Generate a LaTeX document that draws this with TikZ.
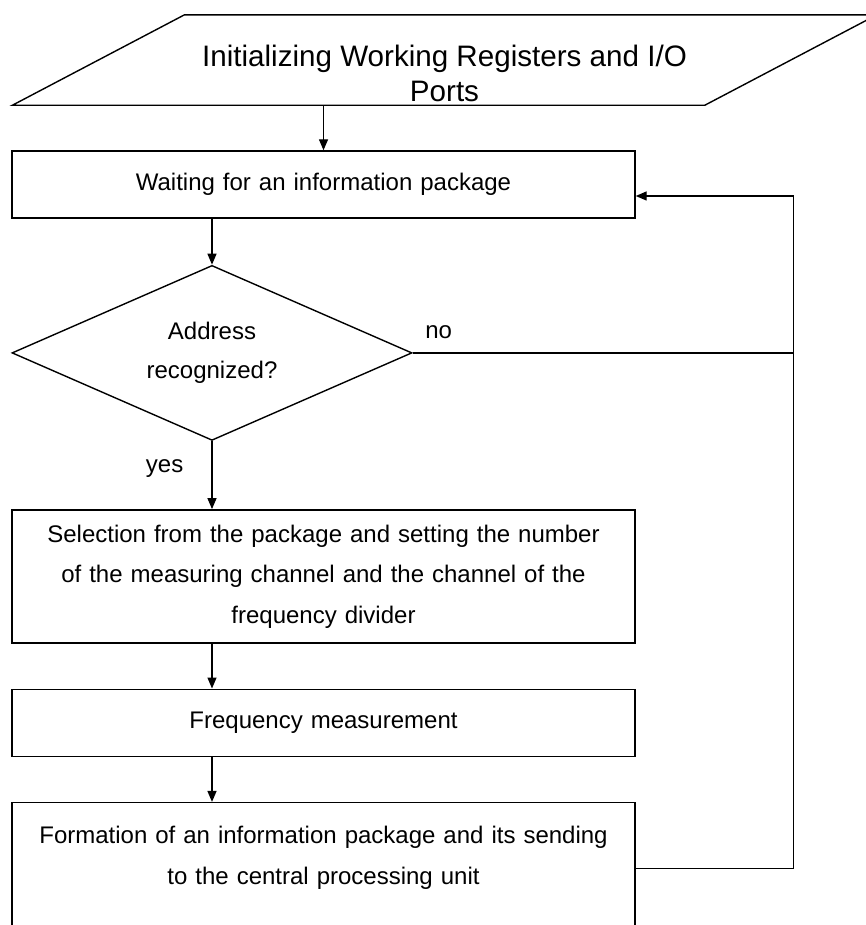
\documentclass[tikz,border=0pt]{standalone}
\usepackage{fontspec}
\setmainfont{Liberation Sans}
\usetikzlibrary{shapes.geometric,arrows.meta,positioning,calc}
\tikzset{
    block/.style={
        rectangle,
        draw,
        align=center,
        inner xsep=0pt,
        text width=311.5pt,
        minimum height=33.5pt,
        font=\fontsize{12}{20.25}\selectfont
    },
    decision/.style={
        diamond,
        draw,
        aspect=2.286,
        inner sep=0pt,
        minimum width=200pt,
        minimum height=87.5pt,
        align=center,
        font=\fontsize{12}{19.5}\selectfont
    },
    io/.style={
        rectangle,
        inner sep=0pt,
        minimum width=259.5pt,
        minimum height=44.5pt
    },
    lbl/.style={inner sep=0pt, font=\fontsize{12}{14}\selectfont}
}
\begin{document}
\begin{tikzpicture}[node distance=22.5pt, line width=0.7pt, >={Triangle[length=5.5pt,width=4.5pt]}]
    \clip (-161.75pt,92.25pt) rectangle (271.25pt,-370.25pt);
    \node (wait) [block] {Waiting for an information package};
    \node (init) [io, above=of wait, xshift=60.5pt] {};
    % slanted sides of the input/output box
    \draw ([xshift=-86pt]init.south west) -- (init.north west) -- ([xshift=86pt]init.north east) -- (init.south east) -- cycle;
    \node (initlbl) [align=center, font=\fontsize{14.8}{17.5}\selectfont] at ([yshift=-6.75pt]init.center) {Initializing Working Registers and I/O\\Ports};
    \node (addr) [decision, below=23pt of wait, xshift=-55.75pt] {Address\\recognized?};
    \node (sel) [block, minimum height=66.5pt, below=34pt of addr, xshift=55.75pt] {Selection from the package and setting the number\\of the measuring channel and the channel of the\\frequency divider};
    \node (freq) [block, below=of sel] {Frequency measurement};
    \node (fmt) [block, minimum height=73pt, below=of freq] {Formation of an information package and its sending\\to the central processing unit\\\mbox{}};
    \coordinate (ret) at ([xshift=79pt]fmt.east);

    \draw [->] (init.south -| wait.north) -- (wait.north);
    \draw [->] (wait.south -| addr.north) -- (addr.north);
    \draw [->] (addr.south) -- (addr.south |- sel.north);
    \draw [->] (sel.south -| addr.south) -- (freq.north -| addr.south);
    \draw [->] (freq.south -| addr.south) -- (fmt.north -| addr.south);
    \draw [->] ([yshift=3.5pt]fmt.east) -- ([yshift=3.5pt]ret) |- ([yshift=-5.75pt]wait.east);
    \draw (addr.east) -- (addr.east -| ret);

    \node (no) [lbl, anchor=base west] at ([xshift=6pt, yshift=7.25pt]addr.east) {no};
    \node (yes) [lbl, anchor=base east] at ([xshift=-14pt, yshift=-15.5pt]addr.south) {yes};
\end{tikzpicture}
\end{document}
